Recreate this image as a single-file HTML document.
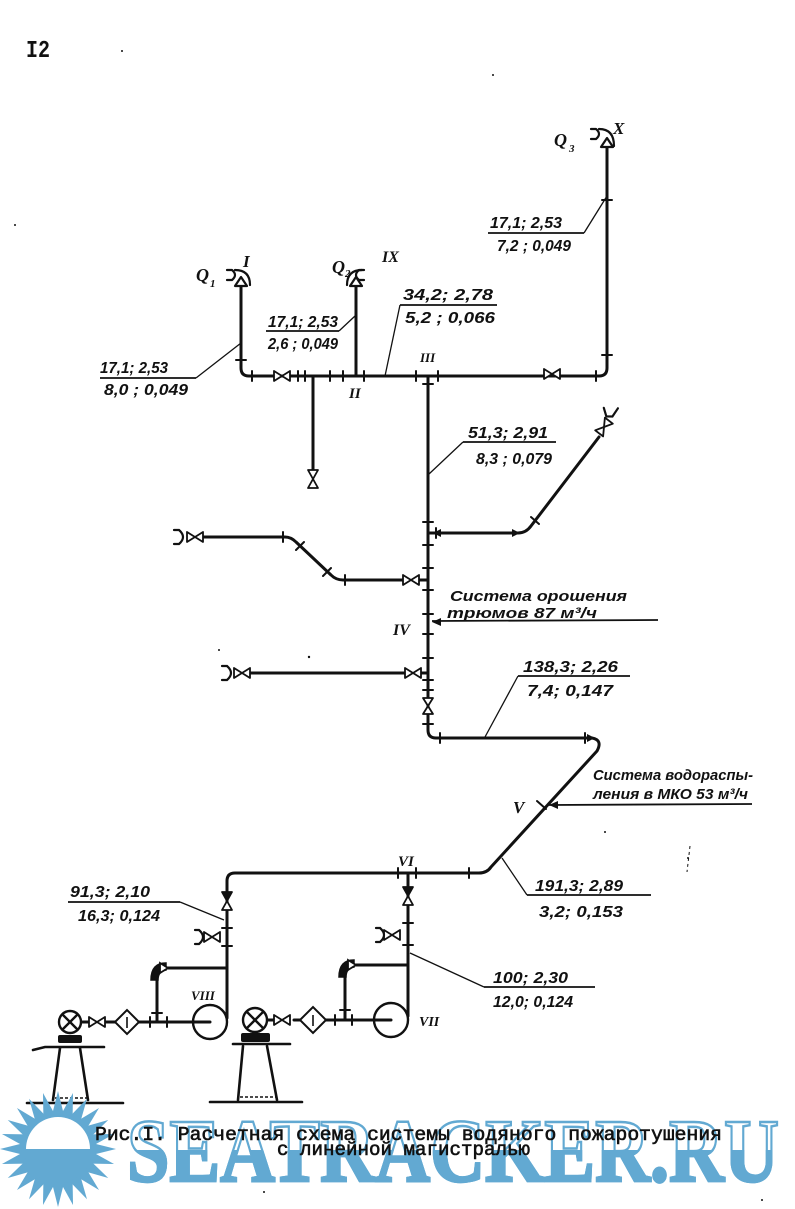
<!DOCTYPE html>
<html>
<head>
<meta charset="utf-8">
<style>
html,body{margin:0;padding:0;background:#fff;}
svg{display:block;}
</style>
</head>
<body>
<svg width="795" height="1209" viewBox="0 0 795 1209" xmlns="http://www.w3.org/2000/svg">
<defs>
<clipPath id="botc"><rect x="0" y="1150" width="795" height="59"/></clipPath>
</defs>
<rect width="795" height="1209" fill="#fff"/>

<!-- page number -->
<text x="26" y="57" font-family="Liberation Mono, monospace" font-weight="bold" font-size="24" textLength="24" lengthAdjust="spacingAndGlyphs" fill="#111">I2</text>

<!-- PIPES -->
<g stroke="#111" stroke-width="3" fill="none" stroke-linecap="round" stroke-linejoin="round">
 <path d="M241,287 L241,368 Q241,376 249,376 L599,376 Q607,376 607,368 L607,147"/>
 <path d="M356,287 L356,376"/>
 <path d="M313,376 L313,470"/>
 <path d="M428,376 L428,730 Q428,738 436,738 L592,738 Q603,740 597,751 L491,867 Q487,873 479,873 L235,873 Q227,873 227,881 L227,1018"/>
 <path d="M408,873 L408,1016"/>
 <path d="M428,533 L518,533 Q526,533 531,526 L599,437"/>
 <path d="M204,537 L285,537 Q291,537 296,542 L331,575 Q336,580 343,580 L403,580"/>
 <path d="M419,580 L428,580"/>
 <path d="M251,673 L405,673"/>
 <path d="M421,673 L428,673"/>
 <path d="M227,968 L164,968"/>
 <path d="M157,978 L157,1022"/>
 <path d="M408,965 L356,965"/>
 <path d="M345,975 L345,1020"/>
 <path d="M105,1022 L210,1022"/>
 <path d="M81,1022 L89,1022"/>
 <path d="M294,1020 L391,1020"/>
 <path d="M267,1020 L274,1020"/>
</g>

<!-- TICKS -->
<g stroke="#111" stroke-width="2" fill="none" stroke-linecap="round">
 <path d="M252,371 L252,381 M298,371 L298,381 M305,371 L305,381 M330,371 L330,381 M343,371 L343,381 M364,371 L364,381 M416,371 L416,381 M438,371 L438,381 M596,371 L596,381"/>
 <path d="M602,200 L612,200 M602,355 L612,355 M236,360 L246,360"/>
 <path d="M423,384 L433,384 M423,522 L433,522 M423,545 L433,545 M423,568 L433,568 M423,590 L433,590 M423,614 L433,614 M423,634 L433,634 M423,658 L433,658 M423,680 L433,680 M423,690 L433,690 M423,724 L433,724"/>
 <path d="M436,528 L436,538 M531,517 L539,524 M283,532 L283,542 M296,550 L304,542 M323,576 L331,568 M345,575 L345,585"/>
 <path d="M440,733 L440,743 M585,733 L585,743 M398,868 L398,878 M416,868 L416,878 M469,868 L469,878 M537,801 L546,809"/>
 <path d="M222,928 L232,928 M222,946 L232,946 M403,923 L413,923 M403,945 L413,945"/>
 <path d="M150,1017 L150,1027 M167,1017 L167,1027 M335,1015 L335,1025 M352,1015 L352,1025 M152,1013 L162,1013 M340,1010 L350,1010"/>
</g>

<!-- ARROWHEADS -->
<g fill="#111">
 <polygon points="520,533 512,529 512,537"/>
 <polygon points="432,622 441,618 441,626"/>
 <polygon points="549,805 558,801 558,809"/>
 <polygon points="595,738 587,734 587,742"/>
 <polygon points="433,533 441,529 441,537"/>
</g>

<!-- VALVES -->
<g stroke="#111" stroke-width="1.8" fill="#fff" stroke-linejoin="round">
 <polygon points="274,371 274,381 282,376"/><polygon points="290,371 290,381 282,376"/>
 <polygon points="544,369 544,379 552,374"/><polygon points="560,369 560,379 552,374"/>
 <polygon points="187,532 187,542 195,537"/><polygon points="203,532 203,542 195,537"/>
 <polygon points="403,575 403,585 411,580"/><polygon points="419,575 419,585 411,580"/>
 <polygon points="234,668 234,678 242,673"/><polygon points="250,668 250,678 242,673"/>
 <polygon points="405,668 405,678 413,673"/><polygon points="421,668 421,678 413,673"/>
 <polygon points="204,932 204,942 212,937"/><polygon points="220,932 220,942 212,937"/>
 <polygon points="384,930 384,940 392,935"/><polygon points="400,930 400,940 392,935"/>
 <polygon points="89,1017 89,1027 97,1022"/><polygon points="105,1017 105,1027 97,1022"/>
 <polygon points="274,1015 274,1025 282,1020"/><polygon points="290,1015 290,1025 282,1020"/>
 <polygon points="308,470 318,470 313,479"/><polygon points="308,488 318,488 313,479"/>
 <polygon points="423,698 433,698 428,706"/><polygon points="423,714 433,714 428,706"/>
 <g transform="rotate(37.5 604 427)">
  <polygon points="599,419 609,419 604,427"/><polygon points="599,435 609,435 604,427"/>
 </g>
 <polygon points="222,892 232,892 227,901" fill="#111"/><polygon points="222,910 232,910 227,901"/>
 <polygon points="403,887 413,887 408,896" fill="#111"/><polygon points="403,905 413,905 408,896"/>
</g>
<!-- cup ends -->
<g stroke="#111" stroke-width="2.2" fill="none" stroke-linecap="round">
 <path d="M174,530 L179,530 Q187,537 179,544 L174,544"/>
 <path d="M222,666 L227,666 Q235,673 227,680 L222,680"/>
 <path d="M195,930 L199,930 Q207,937 199,944 L195,944"/>
 <path d="M376,928 L380,928 Q388,935 380,942 L376,942"/>
 <path d="M603,409 L607,417 L613,416 L617,407" transform="rotate(10 610 413)"/>
</g>

<!-- Q nozzles -->
<g stroke="#111" stroke-width="2.2" fill="none" stroke-linejoin="round" stroke-linecap="round">
 <path d="M227,270 L232,270 Q238,275 232,280 L227,280"/>
 <path d="M235,270 Q250,270 250,285"/>
 <polygon points="235,286 247,286 241,277" fill="#fff"/>
 <path d="M364,270 L359,270 Q353,275 359,280 L364,280"/>
 <path d="M347,285 Q347,270 362,270"/>
 <polygon points="350,286 362,286 356,277" fill="#fff"/>
 <path d="M591,129 L596,129 Q602,134 596,139 L591,139"/>
 <path d="M599,129 Q614,129 614,146"/>
 <polygon points="601,147 613,147 607,138" fill="#fff"/>
</g>

<!-- bypass nozzles (filled) -->
<g fill="#111" stroke="#111" stroke-width="1.5">
 <path d="M151,980 Q151,963 166,963 L166,970 Q158,971 158,980 Z"/>
 <path d="M339,977 Q339,960 354,960 L354,967 Q346,968 346,977 Z"/>
</g>
<g stroke="#111" stroke-width="1.8" fill="#fff">
 <polygon points="160,963 168,968 160,973"/>
 <polygon points="348,960 356,965 348,970"/>
</g>

<!-- Filters -->
<g stroke="#111" stroke-width="2" fill="#fff">
 <polygon points="115,1022 127,1010 139,1022 127,1034"/>
 <polygon points="300,1020 313,1007 326,1020 313,1033"/>
</g>
<g stroke="#111" stroke-width="1.6">
 <path d="M127,1017 L127,1028 M313,1015 L313,1026"/>
</g>

<!-- Pumps -->
<g stroke="#111" stroke-width="2.4" fill="none">
 <circle cx="210" cy="1022" r="17"/>
 <circle cx="391" cy="1020" r="17"/>
 <path d="M193,1022 L210,1022 M374,1020 L391,1020"/>
 <circle cx="70" cy="1022" r="11" fill="#fff"/>
 <path d="M62,1014 L78,1030 M78,1014 L62,1030"/>
 <circle cx="255" cy="1020" r="12" fill="#fff"/>
 <path d="M247,1012 L263,1028 M263,1012 L247,1028"/>
</g>
<g fill="#111">
 <rect x="58" y="1035" width="24" height="8" rx="2"/>
 <rect x="241" y="1033" width="29" height="9" rx="2"/>
</g>
<g stroke="#111" stroke-width="2.6" fill="none" stroke-linecap="round">
 <path d="M33,1050 L45,1047 L104,1047"/>
 <path d="M60,1048 L53,1100 M80,1048 L88,1100"/>
 <path d="M27,1103 L123,1103"/>
 <path d="M233,1044 L290,1044"/>
 <path d="M243,1046 L238,1100 M267,1046 L277,1100"/>
 <path d="M210,1102 L302,1102"/>
</g>
<g stroke="#111" stroke-width="1.5" stroke-dasharray="3 2">
 <path d="M55,1098 L88,1098 M240,1097 L276,1097"/>
</g>

<!-- ANNOTATION LINES -->
<g stroke="#111" stroke-width="1.8" fill="none">
 <path d="M100,378 L196,378"/>
 <path d="M266,331 L339,331"/>
 <path d="M400,305 L497,305"/>
 <path d="M488,233 L584,233"/>
 <path d="M463,442 L556,442"/>
 <path d="M518,676 L630,676"/>
 <path d="M432,621 L658,620"/>
 <path d="M549,805 L752,804"/>
 <path d="M527,895 L651,895"/>
 <path d="M68,902 L180,902"/>
 <path d="M484,987 L595,987"/>
</g>
<g stroke="#111" stroke-width="1.3" fill="none">
 <path d="M196,378 L241,343"/>
 <path d="M339,331 L355,316"/>
 <path d="M400,305 L385,376"/>
 <path d="M584,233 L607,196"/>
 <path d="M463,442 L429,474"/>
 <path d="M518,676 L485,737"/>
 <path d="M527,895 L502,858"/>
 <path d="M180,902 L224,920"/>
 <path d="M484,987 L410,953"/>
</g>

<!-- NUMERIC LABELS -->
<g font-family="Liberation Sans, sans-serif" font-weight="bold" font-style="italic" font-size="16" fill="#111">
 <text x="100" y="373" textLength="68" lengthAdjust="spacingAndGlyphs">17,1;  2,53</text>
 <text x="104" y="395" textLength="84" lengthAdjust="spacingAndGlyphs">8,0 ; 0,049</text>
 <text x="268" y="327" textLength="70" lengthAdjust="spacingAndGlyphs">17,1; 2,53</text>
 <text x="268" y="349" textLength="70" lengthAdjust="spacingAndGlyphs">2,6 ; 0,049</text>
 <text x="403" y="300" textLength="90" lengthAdjust="spacingAndGlyphs">34,2;  2,78</text>
 <text x="405" y="323" textLength="90" lengthAdjust="spacingAndGlyphs">5,2 ; 0,066</text>
 <text x="490" y="228" textLength="72" lengthAdjust="spacingAndGlyphs">17,1; 2,53</text>
 <text x="497" y="251" textLength="74" lengthAdjust="spacingAndGlyphs">7,2 ; 0,049</text>
 <text x="468" y="438" textLength="80" lengthAdjust="spacingAndGlyphs">51,3; 2,91</text>
 <text x="476" y="464" textLength="76" lengthAdjust="spacingAndGlyphs">8,3 ; 0,079</text>
 <text x="523" y="672" textLength="95" lengthAdjust="spacingAndGlyphs">138,3;  2,26</text>
 <text x="527" y="696" textLength="86" lengthAdjust="spacingAndGlyphs">7,4;  0,147</text>
 <text x="535" y="891" textLength="88" lengthAdjust="spacingAndGlyphs">191,3; 2,89</text>
 <text x="539" y="917" textLength="84" lengthAdjust="spacingAndGlyphs">3,2;  0,153</text>
 <text x="70" y="897" textLength="80" lengthAdjust="spacingAndGlyphs">91,3;  2,10</text>
 <text x="78" y="921" textLength="82" lengthAdjust="spacingAndGlyphs">16,3;  0,124</text>
 <text x="493" y="983" textLength="75" lengthAdjust="spacingAndGlyphs">100;  2,30</text>
 <text x="493" y="1007" textLength="80" lengthAdjust="spacingAndGlyphs">12,0;  0,124</text>
</g>

<!-- System texts -->
<g font-family="Liberation Sans, sans-serif" font-style="italic" font-weight="bold" font-size="15" fill="#111">
 <text x="450" y="601" textLength="177" lengthAdjust="spacingAndGlyphs">Система орошения</text>
 <text x="447" y="618" textLength="150" lengthAdjust="spacingAndGlyphs">трюмов 87 м³/ч</text>
 <text x="593" y="780" textLength="160" lengthAdjust="spacingAndGlyphs">Система водораспы-</text>
 <text x="593" y="799" textLength="155" lengthAdjust="spacingAndGlyphs">ления в МКО 53 м³/ч</text>
</g>

<!-- Q labels & roman numerals -->
<g font-family="Liberation Serif, serif" font-weight="bold" font-style="italic" fill="#111">
 <text x="196" y="281" font-size="18">Q</text><text x="210" y="287" font-size="11">1</text>
 <text x="332" y="273" font-size="18">Q</text><text x="345" y="277" font-size="11">2</text>
 <text x="554" y="146" font-size="18">Q</text><text x="569" y="152" font-size="11">3</text>
 <text x="243" y="267" font-size="17">I</text>
 <text x="382" y="262" font-size="16">IX</text>
 <text x="613" y="134" font-size="17">X</text>
 <text x="349" y="398" font-size="15">II</text>
 <text x="420" y="362" font-size="13">III</text>
 <text x="393" y="635" font-size="16">IV</text>
 <text x="513" y="813" font-size="17">V</text>
 <text x="398" y="866" font-size="15">VI</text>
 <text x="419" y="1026" font-size="14">VII</text>
 <text x="191" y="1000" font-size="13">VIII</text>
</g>

<!-- specks -->
<g fill="#111">
 <circle cx="122" cy="51" r="1"/><circle cx="493" cy="75" r="1"/><circle cx="15" cy="225" r="1"/>
 <circle cx="309" cy="657" r="1.2"/><circle cx="219" cy="650" r="1"/><circle cx="688" cy="858" r="1"/>
 <circle cx="264" cy="1192" r="1"/><circle cx="762" cy="1200" r="1"/><circle cx="605" cy="832" r="1"/>
</g>
<path d="M690,846 L687,872" stroke="#111" stroke-width="1" stroke-dasharray="3 3"/>

<!-- WATERMARK -->
<g fill="#62a9d2">
 <circle cx="58" cy="1149" r="37"/>
 <polygon points="52,1115 64,1115 58,1091"/>
 <polygon points="52,1115 64,1115 58,1091" transform="rotate(15 58 1149)"/>
 <polygon points="52,1115 64,1115 58,1091" transform="rotate(30 58 1149)"/>
 <polygon points="52,1115 64,1115 58,1091" transform="rotate(45 58 1149)"/>
 <polygon points="52,1115 64,1115 58,1091" transform="rotate(60 58 1149)"/>
 <polygon points="52,1115 64,1115 58,1091" transform="rotate(75 58 1149)"/>
 <polygon points="52,1115 64,1115 58,1091" transform="rotate(90 58 1149)"/>
 <polygon points="52,1115 64,1115 58,1091" transform="rotate(105 58 1149)"/>
 <polygon points="52,1115 64,1115 58,1091" transform="rotate(120 58 1149)"/>
 <polygon points="52,1115 64,1115 58,1091" transform="rotate(135 58 1149)"/>
 <polygon points="52,1115 64,1115 58,1091" transform="rotate(150 58 1149)"/>
 <polygon points="52,1115 64,1115 58,1091" transform="rotate(165 58 1149)"/>
 <polygon points="52,1115 64,1115 58,1091" transform="rotate(180 58 1149)"/>
 <polygon points="52,1115 64,1115 58,1091" transform="rotate(195 58 1149)"/>
 <polygon points="52,1115 64,1115 58,1091" transform="rotate(210 58 1149)"/>
 <polygon points="52,1115 64,1115 58,1091" transform="rotate(225 58 1149)"/>
 <polygon points="52,1115 64,1115 58,1091" transform="rotate(240 58 1149)"/>
 <polygon points="52,1115 64,1115 58,1091" transform="rotate(255 58 1149)"/>
 <polygon points="52,1115 64,1115 58,1091" transform="rotate(270 58 1149)"/>
 <polygon points="52,1115 64,1115 58,1091" transform="rotate(285 58 1149)"/>
 <polygon points="52,1115 64,1115 58,1091" transform="rotate(300 58 1149)"/>
 <polygon points="52,1115 64,1115 58,1091" transform="rotate(315 58 1149)"/>
 <polygon points="52,1115 64,1115 58,1091" transform="rotate(330 58 1149)"/>
 <polygon points="52,1115 64,1115 58,1091" transform="rotate(345 58 1149)"/>
</g>
<path d="M26,1149 A32,32 0 0 1 90,1149 Z" fill="#fff"/>
<text x="127" y="1181" font-family="Liberation Serif, serif" font-weight="bold" font-size="90" textLength="652" lengthAdjust="spacingAndGlyphs" fill="#fff" stroke="#62a9d2" stroke-width="2.5">SEATRACKER.RU</text>
<g clip-path="url(#botc)">
<text x="127" y="1181" font-family="Liberation Serif, serif" font-weight="bold" font-size="90" textLength="652" lengthAdjust="spacingAndGlyphs" fill="#62a9d2" stroke="#62a9d2" stroke-width="2.5">SEATRACKER.RU</text>
</g>

<!-- CAPTION -->
<g font-family="Liberation Mono, monospace" font-size="19" fill="#111" stroke="#111" stroke-width="0.6">
 <text x="95" y="1140" textLength="627" lengthAdjust="spacingAndGlyphs">Рис.I. Расчетная схема системы водяного пожаротушения</text>
 <text x="277" y="1155" textLength="253" lengthAdjust="spacingAndGlyphs">с линейной магистралью</text>
</g>
</svg>
</body>
</html>
